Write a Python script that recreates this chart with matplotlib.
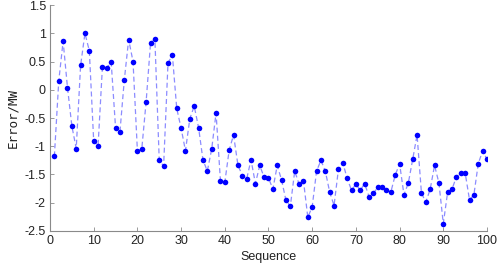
import numpy as np
import matplotlib
matplotlib.use('Agg')
import matplotlib.pyplot as plt

# Prediction error per sample
sequence = np.arange(1, 101)
error = [
    -1.18, 0.15, 0.86, 0.04, -0.64, -1.04, 0.43, 1.00, 0.69, -0.91,
    -0.99, 0.41, 0.39, 0.49, -0.67, -0.75, 0.17, 0.89, 0.50, -1.08,
    -1.05, -0.21, 0.82, 0.90, -1.25, -1.35, 0.47, 0.62, -0.33, -0.68,
    -1.08, -0.51, -0.29, -0.67, -1.24, -1.44, -1.05, -0.41, -1.61, -1.64,
    -1.07, -0.80, -1.33, -1.52, -1.58, -1.24, -1.66, -1.34, -1.55, -1.56,
    -1.76, -1.34, -1.60, -1.96, -2.06, -1.44, -1.67, -1.61, -2.26, -2.07,
    -1.44, -1.25, -1.44, -1.81, -2.05, -1.41, -1.29, -1.57, -1.78, -1.67,
    -1.78, -1.66, -1.89, -1.83, -1.73, -1.73, -1.78, -1.81, -1.51, -1.31,
    -1.86, -1.65, -1.23, -0.80, -1.83, -1.99, -1.76, -1.34, -1.65, -2.37,
    -1.81, -1.76, -1.54, -1.47, -1.47, -1.95, -1.86, -1.31, -1.08, -1.23,
]
xticks = np.arange(0, 101, 10)
yticks = np.arange(-2.5, 1.51, 0.5)
ytick_labels = ['-2.5', '-2', '-1.5', '-1', '-0.5', '0', '0.5', '1', '1.5']

plt.rcParams['font.family'] = ['Liberation Sans', 'DejaVu Sans']

fig = plt.figure(figsize=(4.98, 2.67), dpi=100)
ax = fig.add_axes([0.1004, 0.135, 0.8775, 0.846])

# dashed connecting line, then the dots on top
ax.plot(sequence, error, '--', color='#8c8cff', linewidth=0.9, dashes=(4, 2.5))
ax.plot(sequence, error, 'o', color='#0000ff', markersize=4.0, markeredgewidth=0)

ax.set_xlim(0, 100)
ax.set_ylim(-2.5, 1.5)
ax.set_xticks(xticks)
ax.set_yticks(yticks)
ax.set_yticklabels(ytick_labels)

for side in ['top', 'right']:
    ax.spines[side].set_visible(False)
for side in ['left', 'bottom']:
    ax.spines[side].set_color('#8a8a8a')
    ax.spines[side].set_linewidth(0.8)
ax.tick_params(direction='in', length=3, width=0.6, color='#8a8a8a',
               labelsize=9, labelcolor='#222222', pad=3)

ax.set_xlabel('Sequence', fontsize=9, color='#222222', labelpad=3)
ax.set_ylabel('Error/MW', fontsize=9, color='#222222', labelpad=4,
              family='DejaVu Sans Mono')

fig.savefig('out.png', dpi=100)
